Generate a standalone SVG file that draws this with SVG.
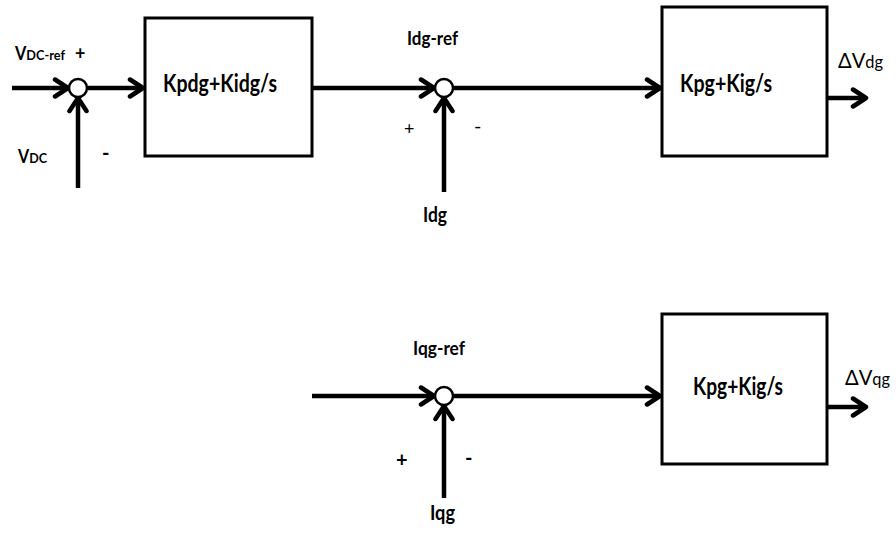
<svg xmlns="http://www.w3.org/2000/svg" width="896" height="533" viewBox="0 0 896 533">
<defs>
<marker id="ah" markerUnits="userSpaceOnUse" markerWidth="22" markerHeight="22" viewBox="-16 -11 18 22" refX="0" refY="0" orient="auto">
<path d="M-13,-8.5 L0,0 L-13,8.5" fill="none" stroke="#000" stroke-width="4.5" stroke-linecap="round" stroke-linejoin="round"/>
</marker>
<style>
.w{stroke:#000;stroke-width:4.5;fill:none}
.a{marker-end:url(#ah)}
.box{fill:#fff;stroke:#000;stroke-width:3}
.sum{fill:#fff;stroke:#000;stroke-width:2.5}
.t{font-family:Lato,"Open Sans",sans-serif;font-weight:bold;fill:#000}
.n{font-family:Lato,"Open Sans",sans-serif;font-weight:normal;fill:#000}
</style>
</defs>
<rect width="896" height="533" fill="#fff"/>
<g id="connectors">
<line class="w a" x1="12" y1="88" x2="68" y2="88"/>
<line class="w a" x1="88" y1="88" x2="143" y2="88"/>
<line class="w a" x1="78" y1="188" x2="78" y2="98"/>
<line class="w a" x1="312" y1="88" x2="434" y2="88"/>
<line class="w a" x1="453" y1="88" x2="660" y2="88"/>
<line class="w a" x1="444" y1="192" x2="444" y2="98"/>
<line class="w a" x1="827" y1="98" x2="866" y2="98"/>
<line class="w a" x1="312" y1="396" x2="434" y2="396"/>
<line class="w a" x1="453" y1="396" x2="660" y2="396"/>
<line class="w a" x1="444" y1="498" x2="444" y2="406"/>
<line class="w a" x1="827" y1="407" x2="866" y2="407"/>
</g>
<g id="sum1"><circle class="sum" cx="78" cy="88" r="9"/></g>
<g id="sum2"><circle class="sum" cx="444" cy="88" r="9"/></g>
<g id="sum3"><circle class="sum" cx="444" cy="396" r="9"/></g>
<g id="pi-dc">
<rect class="box" x="145" y="18" width="167" height="138"/>
<text class="t" x="163" y="92" font-size="24" textLength="114" lengthAdjust="spacingAndGlyphs">Kpdg+Kidg/s</text>
</g>
<g id="pi-d">
<rect class="box" x="662" y="7" width="165" height="149"/>
<text class="t" x="680" y="92" font-size="24" textLength="92" lengthAdjust="spacingAndGlyphs">Kpg+Kig/s</text>
</g>
<g id="pi-q">
<rect class="box" x="662" y="314" width="165" height="150"/>
<text class="t" x="693" y="395" font-size="24" textLength="90" lengthAdjust="spacingAndGlyphs">Kpg+Kig/s</text>
</g>
<g id="labels">
<text class="t" x="15" y="60" font-size="18" textLength="50" lengthAdjust="spacingAndGlyphs">V<tspan font-size="14">DC-ref</tspan></text>
<text class="t" x="75" y="60" font-size="18">+</text>
<text class="t" x="18" y="163" font-size="18" textLength="29" lengthAdjust="spacingAndGlyphs">V<tspan font-size="14">DC</tspan></text>
<text class="t" x="102" y="160" font-size="20">-</text>
<text class="t" x="407" y="45" font-size="18" textLength="51" lengthAdjust="spacingAndGlyphs">Idg-ref</text>
<text class="n" x="404" y="135" font-size="18">+</text>
<text class="n" x="474" y="133" font-size="20">-</text>
<text class="t" x="423" y="222" font-size="21" textLength="24" lengthAdjust="spacingAndGlyphs">Idg</text>
<text class="n" x="838" y="68" font-size="21" textLength="45" lengthAdjust="spacingAndGlyphs">ΔV<tspan font-size="17">dg</tspan></text>
<text class="t" x="413" y="355" font-size="18" textLength="52" lengthAdjust="spacingAndGlyphs">Iqg-ref</text>
<text class="t" x="396" y="467" font-size="20">+</text>
<text class="t" x="465" y="465" font-size="20">-</text>
<text class="t" x="430" y="520" font-size="21" textLength="25" lengthAdjust="spacingAndGlyphs">Iqg</text>
<text class="n" x="845" y="385" font-size="21" textLength="45" lengthAdjust="spacingAndGlyphs">ΔV<tspan font-size="17">qg</tspan></text>
</g>
</svg>
